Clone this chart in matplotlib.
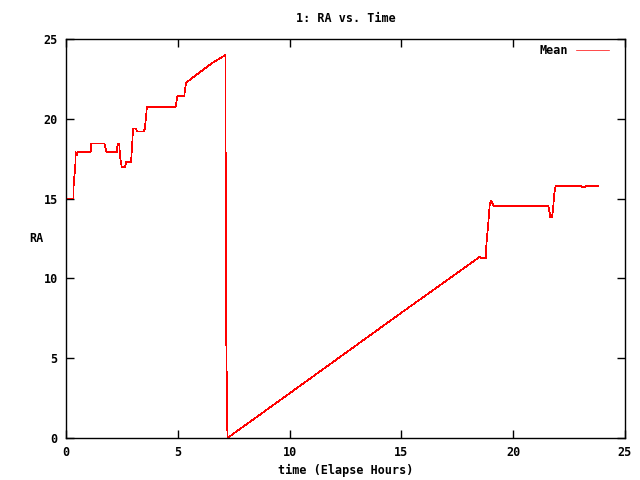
import matplotlib
matplotlib.use("Agg")
import matplotlib.pyplot as plt
from matplotlib.font_manager import FontProperties

# elapsed hours / RA values
hours = [0.0, 0.02, 0.33, 0.34, 0.42, 0.43, 0.48, 0.52, 1.10, 1.12, 1.71, 1.82,
         2.27, 2.31, 2.38, 2.42, 2.49, 2.64, 2.70, 2.91, 2.98, 2.99, 3.13, 3.17,
         3.46, 3.53, 3.62, 4.90, 4.99, 5.29, 5.37, 5.92, 6.52, 7.13, 7.14, 7.17,
         7.22, 10.0, 15.0, 18.45, 18.50, 18.55, 18.77, 18.80, 18.90, 18.95,
         19.02, 19.13, 21.57, 21.62, 21.66, 21.73, 21.78, 21.83, 21.90, 23.03,
         23.08, 23.20, 23.25, 23.80]
ra = [14.0, 15.0, 15.0, 15.75, 17.2, 17.9, 17.7, 17.9, 17.9, 18.46, 18.46, 17.9,
      17.9, 18.46, 18.46, 17.6, 17.0, 17.0, 17.3, 17.3, 18.88, 19.4, 19.4, 19.2,
      19.2, 19.4, 20.76, 20.76, 21.45, 21.45, 22.26, 22.85, 23.48, 24.0, 18.0, 5.93,
      0.0, 2.8, 7.85, 11.3, 11.36, 11.26, 11.26, 12.09, 13.7, 14.64,
      14.87, 14.54, 14.54, 14.2, 13.83, 13.83, 14.3, 15.23, 15.79, 15.79,
      15.73, 15.73, 15.79, 15.79]

xticks = [0, 5, 10, 15, 20, 25]
yticks = [0, 5, 10, 15, 20, 25]

font = dict(family="DejaVu Sans Mono", weight="bold", size=8.5)

fig = plt.figure(figsize=(6.4, 4.8), dpi=100)
ax = fig.add_axes([66 / 640, 42 / 480, 559 / 640, 399 / 480])
ax.plot(hours, ra, color="#ff0000", linewidth=0.5, label="Mean", antialiased=False)
ax.set_xlim(0, 25)
ax.set_ylim(0, 25)
ax.set_xticks(xticks)
ax.set_yticks(yticks)
ax.tick_params(direction="in", length=6, width=1, top=True, right=True, pad=6)
for lab in ax.get_xticklabels() + ax.get_yticklabels():
    lab.set_fontproperties(FontProperties(**font))
for s in ax.spines.values():
    s.set_linewidth(1)

ax.set_title("1: RA vs. Time", fontdict=font, pad=12)
ax.set_xlabel("time (Elapse Hours)", fontdict=font, labelpad=3)
ax.set_ylabel("RA", fontdict=font, rotation=0, labelpad=5, va="center")

leg = ax.legend(loc="upper right", bbox_to_anchor=(0.98, 1.0), frameon=False,
                prop=FontProperties(**font), markerfirst=False,
                handlelength=2.8, handletextpad=0.7, borderaxespad=0)

fig.savefig("out.png", dpi=100)
